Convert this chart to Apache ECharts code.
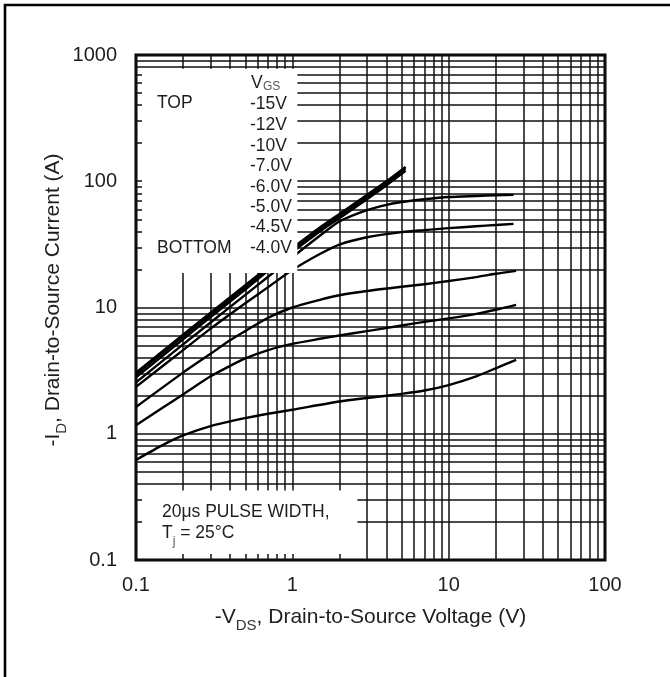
<!DOCTYPE html>
<html><head><meta charset="utf-8">
<script src="https://cdn.jsdelivr.net/npm/echarts@6/dist/echarts.min.js"></script>
<style>html,body{margin:0;padding:0;background:#fff;overflow:hidden;}#c{width:670px;height:677px;}</style>
</head><body><div id="c"></div>
<script>
// ---- tick labels / grid values ----
const xTickLabels = ['0.1', '1', '10', '100'];
const yTickLabels = ['0.1', '1', '10', '100', '1000'];
const xMinorGrid = [0.2,0.3,0.4,0.5,0.6,0.7,0.8,0.9, 2,3,4,5,6,7,8,9, 20,30,40,50,60,70,80,90];
const yMinorGrid = [0.2,0.3,0.4,0.5,0.6,0.7,0.8,0.9, 2,3,4,5,6,7,8,9, 20,30,40,50,60,70,80,90, 200,300,400,500,600,700,800,900];
const gateLabels = ['-15V','-12V','-10V','-7.0V','-6.0V','-5.0V','-4.5V','-4.0V'];

// ---- series data ----
const vdsBundle = [0.1,0.2,0.3,0.5,0.7,1,1.5,2,3,4,5.3];
const id15V = [3.05,6.1,9.1,15,21,29.5,43,55,78,100,130];
const id12V = [2.95,5.9,8.8,14.5,20.3,28.5,41.5,53,75,97,126];
const id10V = [2.8,5.6,8.4,13.9,19.5,27.5,40,51,72,93,121];
const vds7V = [0.1,0.2,0.3,0.5,0.7,1,1.5,2,3,4,5,7,10,15,20,26];
const id7V  = [2.55,5.1,7.6,12.6,17.5,25,37,48,59,65,68.5,72,75,76.5,77.5,78];
const vds6V = [0.1,0.2,0.3,0.5,0.7,1,1.5,2,3,5,7,10,15,20,26];
const id6V  = [2.35,4.6,6.8,10.8,14.5,19.8,26.5,31.5,36,39.5,41,42.5,44,45,46];
const vds5V = [0.1,0.2,0.3,0.4,0.5,0.7,1,1.5,2,3,5,7,10,15,20,27];
const id5V  = [1.63,3.05,4.3,5.5,6.5,8.3,10,11.5,12.5,13.5,14.6,15.3,16.2,17.4,18.5,19.5];
const vds45V = [0.1,0.2,0.3,0.4,0.5,0.7,1,1.5,2,3,5,7,10,15,20,27];
const id45V  = [1.17,2.05,2.85,3.45,3.95,4.6,5.15,5.65,6.0,6.5,7.2,7.7,8.2,8.9,9.6,10.5];
const vds4V = [0.1,0.15,0.2,0.3,0.5,0.7,1,2,3,5,7,10,15,20,27];
const id4V  = [0.62,0.82,0.97,1.15,1.33,1.44,1.55,1.8,1.92,2.07,2.2,2.43,2.85,3.3,3.85];

const curves = [
  [gateLabels[0], vdsBundle, id15V],
  [gateLabels[1], vdsBundle, id12V],
  [gateLabels[2], vdsBundle, id10V],
  [gateLabels[3], vds7V, id7V],
  [gateLabels[4], vds6V, id6V],
  [gateLabels[5], vds5V, id5V],
  [gateLabels[6], vds45V, id45V],
  [gateLabels[7], vds4V, id4V]
];

const FONT = '"Liberation Sans", Arial, Helvetica, sans-serif';
const TXT = '#1e1e1e';
const GRIDC = '#111';
const chart = echarts.init(document.getElementById('c'), null, {renderer: 'canvas'});

const series = curves.map(([name, xs, ys]) => ({
  name, type: 'line', data: xs.map((v, i) => [v, ys[i]]),
  showSymbol: false, smooth: 0.25, z: 5,
  lineStyle: {color: '#000', width: 2.4, join: 'round', cap: 'butt'}, silent: true
}));
series.push({
  type: 'line', data: [], silent: true, z: 2,
  markLine: {
    silent: true, symbol: 'none', animation: false,
    label: {show: false},
    lineStyle: {color: GRIDC, width: 1.5, type: 'solid'},
    emphasis: {disabled: true},
    data: xMinorGrid.map(v => ({xAxis: v})).concat(yMinorGrid.map(v => ({yAxis: v})))
  }
});

chart.setOption({
  animation: false,
  backgroundColor: '#fff',
  grid: {left: 136, top: 55, width: 469, height: 505, show: true, borderColor: '#000', borderWidth: 3, backgroundColor: 'transparent'},
  xAxis: {
    type: 'log', logBase: 10, min: 0.1, max: 100,
    axisLine: {show: false}, axisTick: {show: false},
    splitLine: {show: true, lineStyle: {color: GRIDC, width: 1.5}},
    axisLabel: {margin: 15, fontSize: 20, color: TXT, fontFamily: FONT,
      formatter: (v, i) => xTickLabels[i]}
  },
  yAxis: {
    type: 'log', logBase: 10, min: 0.1, max: 1000,
    axisLine: {show: false}, axisTick: {show: false},
    splitLine: {show: true, lineStyle: {color: GRIDC, width: 1.5}},
    axisLabel: {margin: 19, fontSize: 20, color: TXT, fontFamily: FONT,
      formatter: (v, i) => yTickLabels[i]}
  },
  series
});

const P = (x, y) => chart.convertToPixel({gridIndex: 0}, [x, y]);
const plotL = P(0.1, 1)[0], plotB = P(1, 0.1)[1];
const lb = {l: plotL + 6, r: P(1, 1)[0] + 5, t: P(1, 800)[1] + 1.5, b: P(1, 20)[1] + 3.5};
const bb = {l: plotL + 6, r: P(2, 1)[0] + 18, t: P(1, 0.4)[1] + 6.5, b: plotB - 6};

const sub = {fontSize: 12, fontFamily: FONT, fill: '#555'};
const txt = (x, y, text, size, extra) => Object.assign({
  type: 'text', x, y, z: 110, silent: true,
  style: {text, fontSize: size, fontFamily: FONT, fill: TXT, align: 'left', verticalAlign: 'middle'}
}, extra || {});

const elements = [
  {type: 'polyline', z: 1, silent: true, shape: {points: [[5, 720], [5, 5], [720, 5]]},
   style: {fill: 'none', stroke: '#000', lineWidth: 2.6}},
  {type: 'rect', z: 100, silent: true, shape: {x: lb.l, y: lb.t, width: lb.r - lb.l, height: lb.b - lb.t}, style: {fill: '#fff'}},
  {type: 'rect', z: 100, silent: true, shape: {x: bb.l, y: bb.t, width: bb.r - bb.l, height: bb.b - bb.t}, style: {fill: '#fff'}},
  txt(157, 103, 'TOP', 17.5),
  txt(157, 248, 'BOTTOM', 17.5),
  txt(251, 83, 'V', 17.5),
  {type: 'text', x: 263, y: 87, z: 110, silent: true, style: Object.assign({text: 'GS', align: 'left', verticalAlign: 'middle'}, sub)},
];
const rowY = [104.5, 125.5, 146, 166.5, 187, 207.5, 227.5, 248];
gateLabels.forEach((g, i) => elements.push(txt(250, rowY[i], g, 17.5)));
elements.push(txt(162, 512, '20\u03bcs PULSE WIDTH,', 17.5));
elements.push({
  type: 'text', x: 162, y: 533, z: 110, silent: true,
  style: {text: '{m|T}{s|j}{m| = 25\u00b0C}', verticalAlign: 'middle', align: 'left',
    rich: {m: {fontSize: 17.5, fontFamily: FONT, fill: TXT, lineHeight: 20},
           s: {fontSize: 12, fontFamily: FONT, fill: '#555', lineHeight: 20, verticalAlign: 'bottom', padding: [0, 0, -5, 0]}}}
});
// axis titles
const titleRich = {m: {fontSize: 21, fontFamily: FONT, fill: TXT, lineHeight: 23},
                   s: {fontSize: 15, fontFamily: FONT, fill: '#333', lineHeight: 23, verticalAlign: 'bottom', padding: [0, 0, -5, 0]}};
elements.push({
  type: 'text', x: (plotL + P(100, 1)[0]) / 2, y: 617, z: 110, silent: true,
  style: {text: '{m|-V}{s|DS}{m|, Drain-to-Source Voltage (V)}', align: 'center', verticalAlign: 'middle', rich: titleRich}
});
elements.push({
  type: 'text', x: 53, y: 300, rotation: Math.PI / 2, z: 110, silent: true,
  style: {text: '{m|-I}{s|D}{m|, Drain-to-Source Current (A)}', align: 'center', verticalAlign: 'middle', rich: titleRich}
});
chart.setOption({graphic: {elements}});
</script></body></html>
